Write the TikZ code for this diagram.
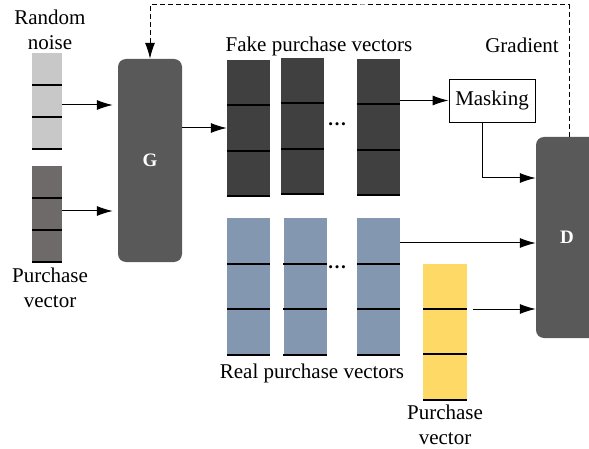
\documentclass[tikz,border=0pt]{standalone}
\usepackage{fontspec}
\setmainfont{Liberation Serif}
\usetikzlibrary{calc,arrows.meta}

\definecolor{noisegray}{HTML}{C8C8C8}
\definecolor{pvgray}{HTML}{6F6A6A}
\definecolor{blockgray}{HTML}{595959}
\definecolor{fakegray}{HTML}{404040}
\definecolor{realblue}{HTML}{8497B0}
\definecolor{pvyellow}{HTML}{FFD966}

\tikzset{
  vec/.style={rectangle, inner sep=0pt, minimum width=43pt, minimum height=136pt},
  block/.style={rectangle, rounded corners=8pt, fill=blockgray, text=white,
    font=\fontsize{19}{20}\selectfont\bfseries, inner sep=0pt},
  seg/.style={line width=2pt, black},
  conn/.style={line width=1pt, ->},
  dotsfont/.style={font=\fontsize{19}{19}\selectfont\bfseries},
}

\begin{document}
\begin{tikzpicture}[x=1pt, y=-1pt, >={Latex[length=16pt,width=10pt]},
  font=\fontsize{21}{25}\selectfont]
\clip (0,0) rectangle (589,449);
\useasboundingbox (0,0) rectangle (589,449);

%%%%%%%%%%%% Generator
\node[vec, minimum width=30pt, minimum height=96pt, fill=noisegray] (noise) at (47,101) {};
\node[vec, minimum width=30pt, minimum height=96pt, fill=pvgray] (pvin) at (47,214) {};
\node[align=center] (noiselbl) at (50,30) {Random\\noise};
\node[align=center] (pvinlbl) at (50,288) {Purchase\\vector};
\node[block, minimum width=64pt, minimum height=203pt] (G) at (150,160.5) {G};

%%%%%%%%%%%% Fake / real purchase vectors
\node[vec, fill=fakegray] (fake1) at (248.5,128) {};
\node[vec, fill=fakegray] (fake2) at (302.5,126) {};
\node[vec, fill=fakegray] (fake3) at (378.5,127) {};
\node[vec, fill=realblue] (real1) at (248.5,286.5) {};
\node[vec, fill=realblue] (real2) at (305,286.5) {};
\node[vec, fill=realblue] (real3) at (378.5,286.5) {};
\node[vec, minimum width=44pt, fill=pvyellow] (pvreal) at (445,331.5) {};

\foreach \v in {noise,pvin,fake1,fake2,fake3,real1,real2,real3,pvreal}
  \foreach \k in {1,2,3}
    \draw[seg] ($(\v.north west)!\k/3!(\v.south west)$) -- ($(\v.north east)!\k/3!(\v.south east)$);

\node[dotsfont] (fakedots) at (337,124) {\ldots};
\node[dotsfont] (realdots) at (337,267) {\ldots};
\node (fakelbl) at (319,46) {Fake purchase vectors};
\node (reallbl) at (312,373) {Real purchase vectors};
\node[align=center] (pvreallbl) at (445,425) {Purchase\\vector};

%%%%%%%%%%%% Discriminator
\node[draw, line width=0.8pt, minimum width=86pt, minimum height=43pt, inner sep=0pt] (mask) at (492,100.5) {Masking};
\node[block, minimum width=62pt, minimum height=201pt] (D) at (567,237.5) {D};
\node (gradlbl) at (522,45) {Gradient};
\coordinate (gradtop) at (360,5);

\draw[conn, shorten >=5pt] (noise.east |- 0,105) -- (G.west |- 0,105);
\draw[conn, shorten >=5pt] (pvin.east |- 0,211) -- (G.west |- 0,211);
\draw[conn] (G.east |- fake1.west) -- (fake1.west);
\draw[conn] (fake3.east |- mask.west) -- (mask.west);
\draw[conn] ([xshift=-10pt]mask.south) |- (D.west |- 0,178);
\draw[conn] (real3.east |- 0,243) -- (D.west |- 0,243);
\draw[conn, shorten <=6pt] (pvreal.east |- 0,309) -- (D.west |- 0,309);
\draw[conn, dash pattern=on 5pt off 3pt] ([xshift=2pt]D.north) |- (gradtop) -| (G.north);
\end{tikzpicture}
\end{document}
